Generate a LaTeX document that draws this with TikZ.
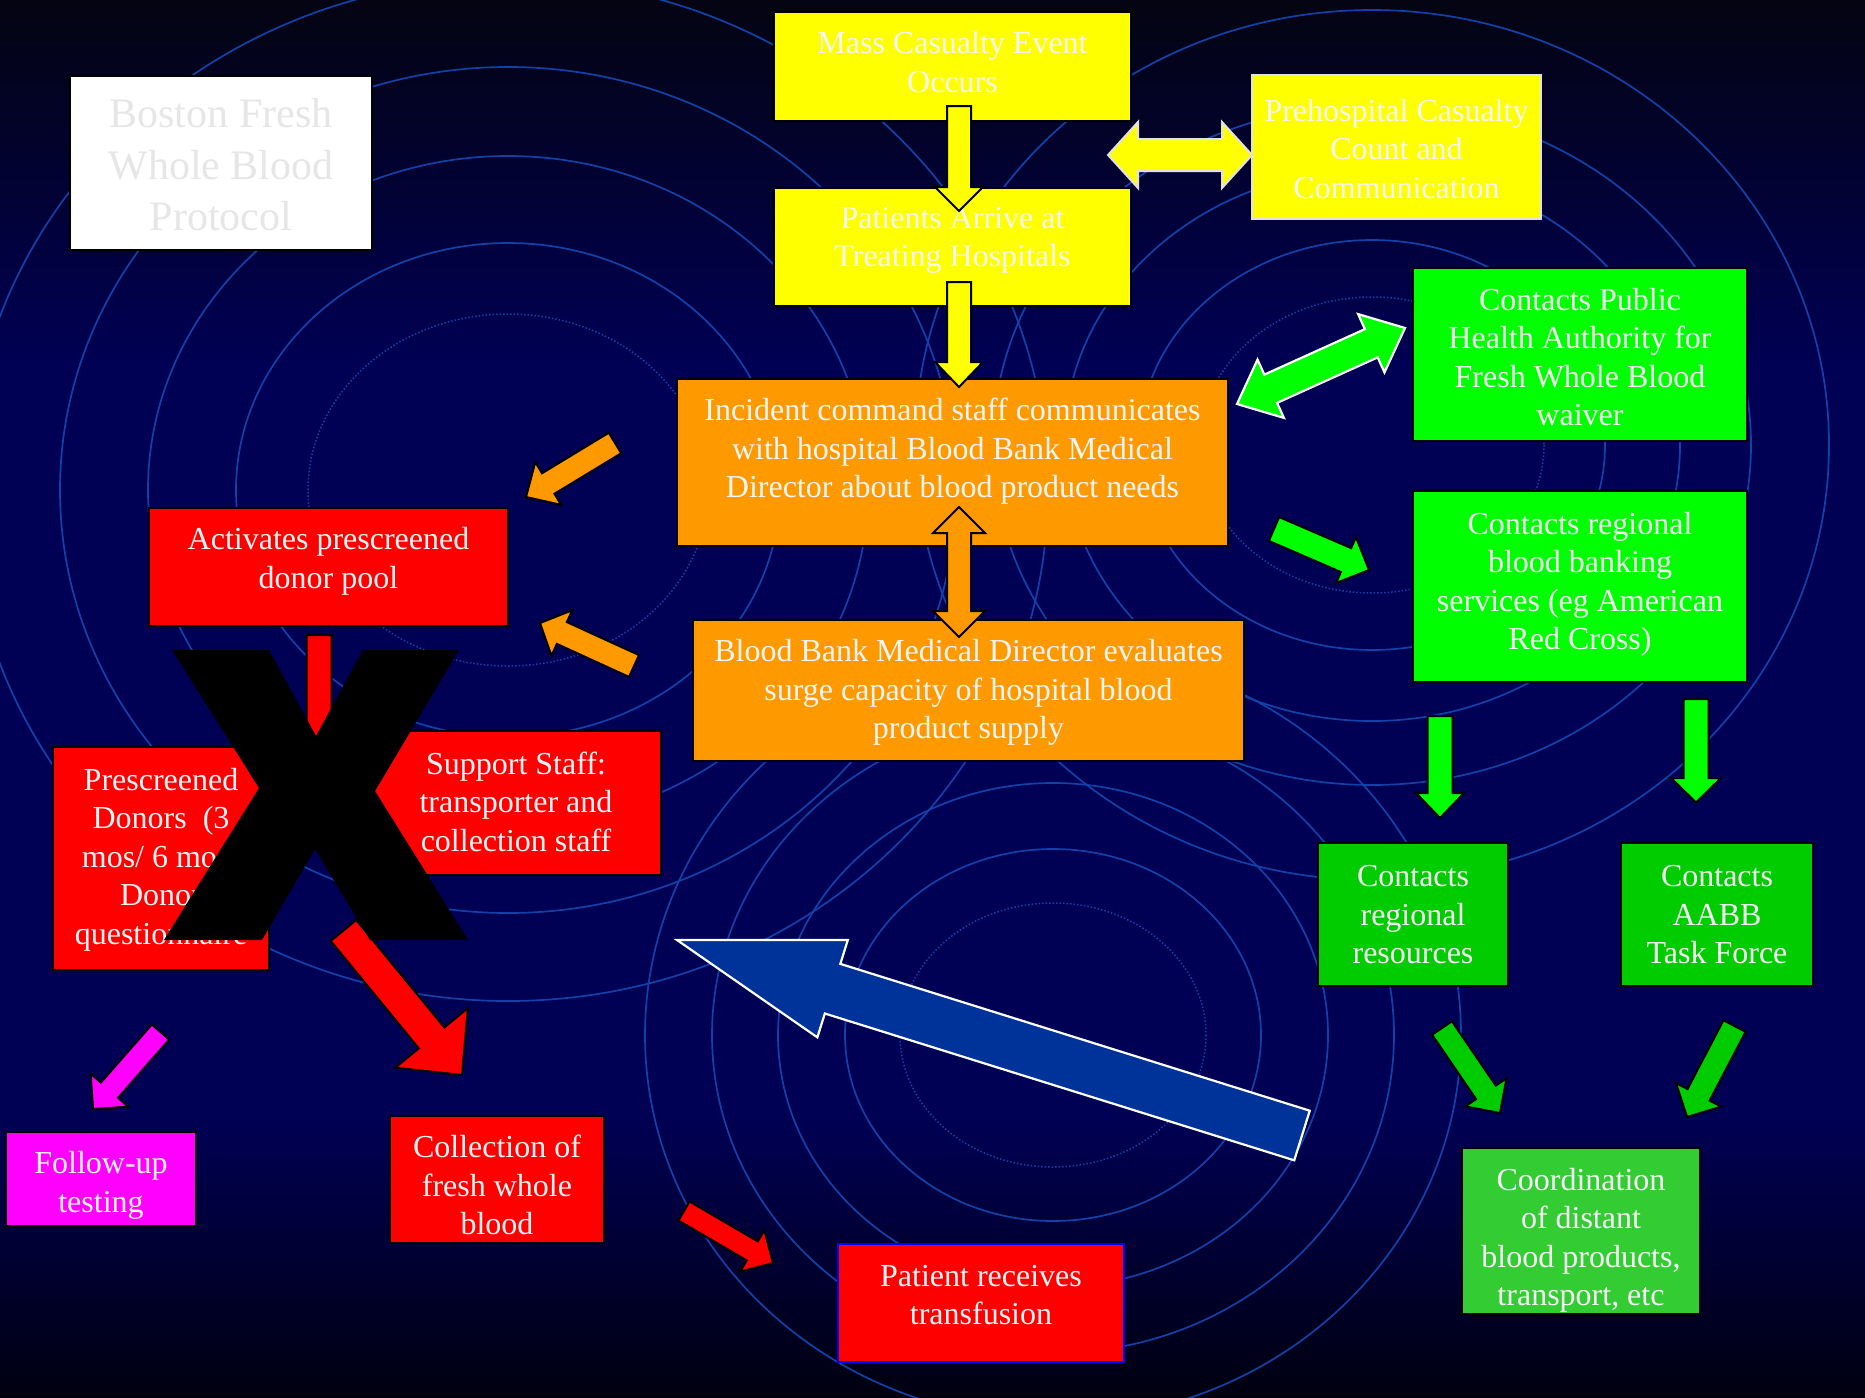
\documentclass[tikz,border=0pt]{standalone}
\usepackage{fontspec}
\setmainfont{Liberation Serif}
\usetikzlibrary{fit}

\definecolor{bgtop}{RGB}{4,4,18}
\definecolor{bgmid}{RGB}{0,0,84}
\definecolor{bgbot}{RGB}{0,0,16}
\definecolor{ringc}{RGB}{18,66,168}
\definecolor{ppyellow}{RGB}{255,255,0}
\definecolor{pporange}{RGB}{255,153,0}
\definecolor{ppgreen}{RGB}{0,255,0}
\definecolor{ppgreenb}{RGB}{0,204,0}
\definecolor{ppgreenc}{RGB}{51,204,51}
\definecolor{ppred}{RGB}{255,0,0}
\definecolor{ppmag}{RGB}{255,0,255}
\definecolor{ppblue}{RGB}{0,51,153}
\definecolor{txtw}{RGB}{245,245,245}
\definecolor{txtg}{RGB}{230,230,230}
\definecolor{lightedge}{RGB}{225,225,225}

\pgfdeclareverticalshading{slidebg}{100bp}{color(0bp)=(bgbot); color(25bp)=(bgbot); color(35bp)=(bgmid); color(62bp)=(bgmid); color(75bp)=(bgtop); color(100bp)=(bgtop)}

\newdimen\baxa \newdimen\baya \newdimen\baxb \newdimen\bayb
\newcommand\bagetpts[3]{%
  \pgfextractx{\baxa}{\pgfpointanchor{#1}{center}}%
  \pgfextracty{\baya}{\pgfpointanchor{#1}{center}}%
  \pgfextractx{\baxb}{\pgfpointanchor{#2}{center}}%
  \pgfextracty{\bayb}{\pgfpointanchor{#2}{center}}%
  \pgfmathsetmacro\baang{atan2(\bayb-\baya,\baxb-\baxa)}%
  \pgfmathsetmacro\balen{veclen(\baxb-\baxa,\bayb-\baya)}%
  \pgfmathsetmacro\babase{\balen-#3}}
% style, from, to, shaft half width, head half width, head length
\newcommand\blockarrow[6]{%
  \bagetpts{#2}{#3}{#6}%
  \draw[#1,shift={(#2)},rotate=\baang] (0,#4) -- (\babase,#4) -- (\babase,#5) -- (\balen,0) -- (\babase,-#5) -- (\babase,-#4) -- (0,-#4) -- cycle;}
\newcommand\dblarrow[6]{%
  \bagetpts{#2}{#3}{#6}%
  \draw[#1,shift={(#2)},rotate=\baang] (0,0) -- (#6,#5) -- (#6,#4) -- (\babase,#4) -- (\babase,#5) -- (\balen,0) -- (\babase,-#5) -- (\babase,-#4) -- (#6,-#4) -- (#6,-#5) -- cycle;}

\begin{document}
\begin{tikzpicture}[x=1pt,y=-1pt,
  ring/.style={draw=ringc, line width=1.7pt},
  ringdot/.style={draw=ringc, line width=1.5pt, dotted},
  box/.style={inner sep=0pt, draw=black, line width=2pt},
  txt/.style={align=center, text=txtw, inner sep=0pt, font=\fontsize{32}{38.5}\selectfont},
  arr/.style={line width=2pt, line join=miter, draw=black},
  arrw/.style={line width=2.2pt, line join=miter, draw=white}]

\useasboundingbox (0,0) rectangle (1865,1397);
\shade[shading=slidebg] (0,0) rectangle (1865,1397);

% background rings
\begin{scope}
\clip (0,0) rectangle (1865,1397);
\foreach \rx/\ry in {272/247,360/334,448/423,540/511}
  \draw[ring] (508,490) ellipse [x radius=\rx, y radius=\ry];
\draw[ringdot] (508,490) ellipse [x radius=200, y radius=176];
\foreach \rx/\ry in {208/186,275/252,341/318,408/385}
  \draw[ring] (1053,1035) ellipse [x radius=\rx, y radius=\ry];
\draw[ringdot] (1053,1035) ellipse [x radius=153, y radius=132];
\foreach \rx/\ry in {233/205,308/276,379/340,457/435}
  \draw[ring] (1372,445) ellipse [x radius=\rx, y radius=\ry];
\draw[ringdot] (1372,445) ellipse [x radius=172, y radius=148];
\end{scope}

% boxes
\node[box, fill=white, fit={(70,76)(372,250)}] (boston) {};
\node[txt, text=txtg, font=\fontsize{42}{51.5}\selectfont] (boston-t) at (221,165) {Boston Fresh\\Whole Blood\\Protocol};

\node[box, fill=ppyellow, fit={(774,12)(1131,121)}] (mass) {};
\node[txt] (mass-t) at (952.5,62) {Mass Casualty Event\\Occurs};

\node[box, fill=ppyellow, fit={(774,188)(1131,306)}] (patients) {};
\node[txt] (patients-t) at (952.5,240.5) {Patients Arrive at\\Treating Hospitals};

\node[box, draw=lightedge, fill=ppyellow, fit={(1252,75)(1541,219)}] (prehosp) {};
\node[txt] (prehosp-t) at (1396.5,149) {Prehospital Casualty\\Count and\\Communication};

\node[box, fill=ppgreen, fit={(1413,268)(1747,441)}] (cpub) {};
\node[txt] (cpub-t) at (1580,357) {Contacts Public\\Health Authority for\\Fresh Whole Blood\\waiver};

\node[box, fill=pporange, fit={(677,379)(1228,546)}] (incident) {};
\node[txt] (incident-t) at (952.5,451.5) {Incident command staff communicates\\with hospital Blood Bank Medical\\Director about blood product needs};

\node[box, fill=ppgreen, fit={(1413,491)(1747,682)}] (cregbb) {};
\node[txt] (cregbb-t) at (1580,584.5) {Contacts regional\\blood banking\\services (eg American\\Red Cross)};

\node[box, fill=ppred, fit={(149,508)(508,626)}] (activ) {};
\node[txt] (activ-t) at (328.5,561.5) {Activates prescreened\\donor pool};

\node[box, fill=pporange, fit={(693,620)(1244,761)}] (bbmd) {};
\node[txt] (bbmd-t) at (968.5,692.5) {Blood Bank Medical Director evaluates\\surge capacity of hospital blood\\product supply};

\node[box, fill=ppred, fit={(53,747)(269,970)}] (prescr) {};
\node[txt] (prescr-t) at (161,859.5) {Prescreened\\Donors~~(3\\mos/ 6 mos)\\Donor\\questionnaire};

\node[box, fill=ppred, fit={(372,731)(661,875)}] (support) {};
\node[txt] (support-t) at (516,801.5) {Support Staff:\\transporter and\\collection staff};

\node[box, fill=ppmag, fit={(6,1132)(196,1226)}] (follow) {};
\node[txt] (follow-t) at (101,1185.5) {Follow-up\\testing};

\node[box, fill=ppred, fit={(390,1116)(604,1243)}] (collect) {};
\node[txt] (collect-t) at (497,1185) {Collection of\\fresh whole\\blood};

\node[box, draw=blue, fill=ppred, fit={(838,1244)(1124,1362)}] (patrec) {};
\node[txt] (patrec-t) at (981,1295) {Patient receives\\transfusion};

\node[box, fill=ppgreenb, fit={(1318,843)(1508,986)}] (cregres) {};
\node[txt] (cregres-t) at (1413,915) {Contacts\\regional\\resources};

\node[box, fill=ppgreenb, fit={(1621,843)(1813,986)}] (aabb) {};
\node[txt] (aabb-t) at (1717,915) {Contacts\\AABB\\Task Force};

\node[box, fill=ppgreenc, fit={(1462,1148)(1700,1314)}] (coord) {};
\node[txt] (coord-t) at (1581,1240.5) {Coordination\\of distant\\blood products,\\transport, etc};

% arrow end points
\coordinate (ya1s) at (959,106);   \coordinate (ya1e) at (959,211);
\coordinate (ya2s) at (959,282);   \coordinate (ya2e) at (959,387);
\coordinate (yds)  at (1108,155);  \coordinate (yde)  at (1252,155);
\coordinate (gds)  at (1237,404);  \coordinate (gde)  at (1405,328);
\coordinate (g5s)  at (1274,529);  \coordinate (g5e)  at (1369,570);
\coordinate (o1s)  at (615,443);   \coordinate (o1e)  at (526,497);
\coordinate (o2s)  at (634,666);   \coordinate (o2e)  at (540,623);
\coordinate (ods)  at (959,507);   \coordinate (ode)  at (959,637);
\coordinate (rds)  at (319,635);   \coordinate (rde)  at (319,780);
\coordinate (rbs)  at (343.5,930.5); \coordinate (rbe) at (462,1075);
\coordinate (mgs)  at (160.5,1032); \coordinate (mge) at (93,1109);
\coordinate (r2s)  at (684,1211);  \coordinate (r2e)  at (773,1263);
\coordinate (bls)  at (1302,1135.5); \coordinate (ble) at (677,940);
\coordinate (gdls) at (1440,716);  \coordinate (gdle) at (1440,818);
\coordinate (gdrs) at (1696,699);  \coordinate (gdre) at (1696,802.5);
\coordinate (gls)  at (1442,1028); \coordinate (gle)  at (1500,1113);
\coordinate (grs)  at (1734.5,1026); \coordinate (gre) at (1687,1117);

% arrows
\blockarrow{arr, fill=ppyellow}{ya1s}{ya1e}{12}{24}{24}
\blockarrow{arr, fill=ppyellow}{ya2s}{ya2e}{12}{24}{25}
\dblarrow{arr, draw=lightedge, fill=ppyellow}{yds}{yde}{16}{33}{30}
\dblarrow{arrw, fill=ppgreen}{gds}{gde}{15.5}{32}{37}
\blockarrow{arr, fill=ppgreen}{g5s}{g5e}{13}{25}{25}
\blockarrow{arr, fill=pporange}{o1s}{o1e}{12}{25}{26}
\blockarrow{arr, fill=pporange}{o2s}{o2e}{12}{25}{24}
\dblarrow{arr, fill=pporange}{ods}{ode}{12}{26}{26}
\blockarrow{arr, fill=ppred}{rds}{rde}{12.5}{28}{35}
\blockarrow{arr, fill=ppred}{rbs}{rbe}{16.5}{47}{48}
\blockarrow{arr, fill=ppmag}{mgs}{mge}{11.5}{25}{25}
\blockarrow{arr, fill=ppred}{r2s}{r2e}{11}{24}{24}
\blockarrow{arrw, fill=ppblue}{bls}{ble}{26}{51}{163}
\blockarrow{arr, fill=ppgreen}{gdls}{gdle}{12.5}{24}{25}
\blockarrow{arr, fill=ppgreen}{gdrs}{gdre}{12.5}{25}{24.5}
\blockarrow{arr, fill=ppgreenb}{gls}{gle}{12}{25}{25}
\blockarrow{arr, fill=ppgreenb}{grs}{gre}{12.5}{25.5}{25}

% the big X
\fill[black] (172,650) -- (269,650) -- (316,736) -- (363,650) -- (459,650) -- (375,791)
  -- (468,940) -- (370,940) -- (315,849) -- (262,940) -- (164,940) -- (259,788) -- cycle;
\end{tikzpicture}
\end{document}
